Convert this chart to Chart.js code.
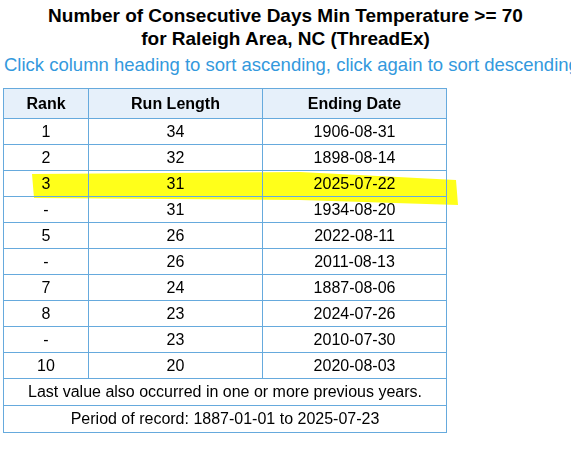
<!DOCTYPE html><html><head><meta charset="utf-8">
<script src="https://cdn.jsdelivr.net/npm/chart.js"></script>
<style>
body{margin:0;font-family:"Liberation Sans",Arial,sans-serif;width:571px;height:453px;overflow:hidden;position:relative;background:#fff}
h1{margin:4px 0 0 0;font-size:19px;line-height:23px;text-align:center;width:571px;font-weight:bold;color:#000}
.sub{color:#3399dd;font-size:18.5px;white-space:nowrap;margin:4px 0 0 4px;}
table{position:absolute;left:3px;top:88px;border-collapse:collapse;font-size:16px;z-index:2}
td,th{border:1px solid #66aadd;text-align:center;height:25px;padding:0}
th{background:#e6f0fa;font-weight:bold;height:29px}
#hl{position:absolute;left:0;top:0;z-index:1}
</style></head><body>
<h1>Number of Consecutive Days Min Temperature &gt;= 70<br>for Raleigh Area, NC (ThreadEx)</h1>
<div class="sub">Click column heading to sort ascending, click again to sort descending.</div>
<table id="t"></table>
<canvas id="hl" width="571" height="453" style="pointer-events:none"></canvas>
<script>
const headers=["Rank","Run Length","Ending Date"];
const ranks=["1","2","3","-","5","-","7","8","-","10"];
const runLengths=[34,32,31,31,26,26,24,23,23,20];
const endingDates=["1906-08-31","1898-08-14","2025-07-22","1934-08-20","2022-08-11","2011-08-13","1887-08-06","2024-07-26","2010-07-30","2020-08-03"];
const footers=["Last value also occurred in one or more previous years.","Period of record: 1887-01-01 to 2025-07-23"];
const t=document.getElementById('t');
let h='<tr><th style="width:84px">'+headers[0]+'</th><th style="width:173px">'+headers[1]+'</th><th style="width:183px">'+headers[2]+'</th></tr>';
ranks.forEach((r,i)=>{h+='<tr><td>'+r+'</td><td>'+runLengths[i]+'</td><td>'+endingDates[i]+'</td></tr>';});
footers.forEach(f=>{h+='<tr><td colspan="3" style="height:26px">'+f+'</td></tr>';});
t.innerHTML=h;
new Chart(document.getElementById('hl'),{type:'scatter',data:{datasets:[]},
options:{responsive:false,animation:false,plugins:{legend:{display:false},tooltip:{enabled:false}},
scales:{x:{display:false},y:{display:false}}},
plugins:[{id:'hl',afterDraw(c){const g=c.ctx;g.save();
g.fillStyle='#ffff1a';g.beginPath();g.moveTo(32,174);g.lineTo(300,172);g.lineTo(456,180);g.lineTo(458,205);g.lineTo(300,200);g.lineTo(34,198);g.closePath();g.fill();g.restore();}}]});
</script></body></html>
